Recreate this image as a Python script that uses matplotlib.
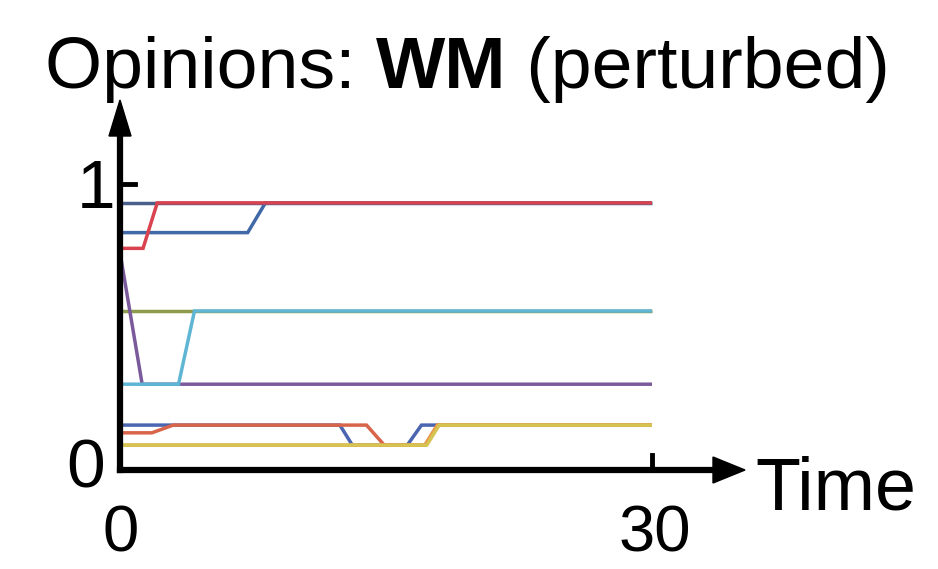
import matplotlib
matplotlib.use("Agg")
import matplotlib.pyplot as plt
from matplotlib.patches import Polygon

plt.rcParams['font.family'] = ['Liberation Sans', 'DejaVu Sans']

# Opinion trajectories: (time points, opinion values) per agent
t_top_a = [0, 30]
v_top_a = [0.934, 0.934]
t_blue = [0, 7.2, 8.2, 30]
v_blue = [0.83, 0.83, 0.934, 0.934]
t_red = [0, 1.3, 2.1, 30]
v_red = [0.775, 0.775, 0.934, 0.934]
t_olive = [0, 30]
v_olive = [0.556, 0.556]
t_purple = [0, 1.25, 30]
v_purple = [0.76, 0.30, 0.30]
t_cyan = [0, 3.3, 4.2, 30]
v_cyan = [0.30, 0.30, 0.556, 0.556]
t_low_blue = [0, 12.4, 13.1, 16.2, 17.0, 30]
v_low_blue = [0.157, 0.157, 0.087, 0.087, 0.157, 0.157]
t_low_red = [0, 1.8, 3.0, 13.9, 14.9, 17.2, 17.9, 30]
v_low_red = [0.13, 0.13, 0.157, 0.157, 0.087, 0.087, 0.157, 0.157]
t_orange = [0, 17.2, 17.9, 30]
v_orange = [0.087, 0.087, 0.157, 0.157]
t_yellow = [0, 17.3, 18.0, 30]
v_yellow = [0.087, 0.087, 0.157, 0.157]

series = [
    (t_top_a, v_top_a, '#4a5f8c'),
    (t_blue, v_blue, '#4169a8'),
    (t_red, v_red, '#d8434f'),
    (t_olive, v_olive, '#8c9c4c'),
    (t_purple, v_purple, '#7b5a9c'),
    (t_cyan, v_cyan, '#5fb6d4'),
    (t_low_blue, v_low_blue, '#4a66b0'),
    (t_low_red, v_low_red, '#d8644a'),
    (t_orange, v_orange, '#eb9a48'),
    (t_yellow, v_yellow, '#d6c452'),
]

W, H = 938, 569
fig = plt.figure(figsize=(W / 100, H / 100), dpi=100)

# pixel geometry of the plotting frame
x0_px, y0_px = 120, 470      # origin
x30_px = 652                 # t = 30
y1_px = 184                  # opinion = 1
xtip_px, ytip_px = 745, 100  # arrow tips

px_per_t = (x30_px - x0_px) / 30.0
px_per_v = (y0_px - y1_px) / 1.0
xmax = (xtip_px - x0_px) / px_per_t
ymax = (y0_px - ytip_px) / px_per_v

ax = fig.add_axes([x0_px / W, (H - y0_px) / H, (xtip_px - x0_px) / W, (y0_px - ytip_px) / H])
ax.set_xlim(0, xmax)
ax.set_ylim(0, ymax)
ax.axis('off')

for t, v, c in series:
    ax.plot(t, v, color=c, lw=2.5, solid_capstyle='butt', solid_joinstyle='miter')

# axes with arrow heads
ax.plot([0, xmax - 30 / px_per_t], [0, 0], color='black', lw=4.5, clip_on=False, solid_capstyle='projecting')
ax.plot([0, 0], [0, ymax - 35 / px_per_v], color='black', lw=4.5, clip_on=False, solid_capstyle='projecting')
ax.add_patch(Polygon([[xmax, 0], [xmax - 32 / px_per_t, 13 / px_per_v], [xmax - 32 / px_per_t, -13 / px_per_v]],
                     closed=True, color='black', clip_on=False))
ax.add_patch(Polygon([[0, ymax], [-11 / px_per_t, ymax - 36 / px_per_v], [11 / px_per_t, ymax - 36 / px_per_v]],
                     closed=True, color='black', clip_on=False))

# tick marks
ax.plot([0, 15 / px_per_t], [1, 1], color='black', lw=3.5, clip_on=False)
ax.plot([30, 30], [0, 15 / px_per_v], color='black', lw=3.5, clip_on=False)

fs = 50


def ftext(x, y, s, size=fs, **kw):
    return fig.text(x / W, 1 - y / H, s, fontsize=size, **kw)


ftext(96, 190, '1', ha='center', va='center')
ftext(86, 470, '0', ha='center', va='center')
ftext(121, 534, '0', size=47, ha='center', va='center')
ftext(655, 534, '30', size=47, ha='center', va='center')
ftext(755, 490, 'Time', size=53, ha='left', va='center')

# title assembled from regular and bold parts, sized to span the figure
renderer = fig.canvas.get_renderer()
parts = [('Opinions: ', 'normal'), ('WM', 'bold'), (' (perturbed)', 'normal')]
title_left, title_width, title_base = 45, 845, 88


def place_title(size):
    x_cursor = title_left
    made = []
    for s, w in parts:
        txt = fig.text(x_cursor / W, 1 - title_base / H, s, fontsize=size, fontweight=w,
                       ha='left', va='baseline')
        bb = txt.get_window_extent(renderer)
        x_cursor += bb.width
        made.append(txt)
    return made, x_cursor - title_left


made, width = place_title(60)
for m in made:
    m.remove()
place_title(60 * title_width / width)

fig.savefig('out.png', dpi=100)
